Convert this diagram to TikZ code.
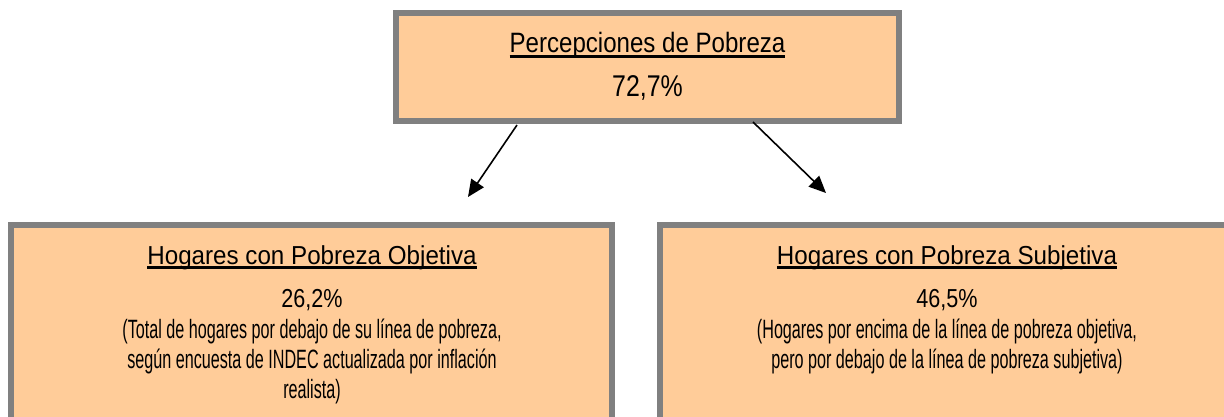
\documentclass[tikz,border=0pt]{standalone}
\usepackage{fontspec}
\setmainfont{Liberation Sans}[FakeStretch=0.61]
\newfontfamily\ttlfont{Liberation Sans}[FakeStretch=0.93]
\newfontfamily\topttlfont{Liberation Sans}[FakeStretch=0.86]
\newfontfamily\valfont{Liberation Sans}[FakeStretch=0.83]
\usetikzlibrary{arrows.meta,calc}
\definecolor{peach}{HTML}{FFCC99}
\definecolor{bordergray}{HTML}{808080}
\newcommand{\myul}[1]{\setbox0\hbox{#1}\rlap{\rule[-5pt]{\wd0}{2.6pt}}\box0}
\tikzset{
  box/.style={draw=bordergray, fill=peach, line width=6pt, rectangle, inner sep=0pt, outer sep=0pt},
  ln/.style={anchor=base, inner sep=0pt, font=\fontsize{26.5}{30}\selectfont},
  ttl/.style={ln, font=\ttlfont\fontsize{26}{30}\selectfont},
  topttl/.style={ln, font=\topttlfont\fontsize{28}{30}\selectfont},
  val/.style={ln, font=\valfont\fontsize{26}{30}\selectfont},
  topval/.style={ln, font=\valfont\fontsize{30}{30}\selectfont},
  conn/.style={line width=1.6pt, -{Triangle[length=17pt,width=15pt]}},
}
\begin{document}
\begin{tikzpicture}[x=1pt,y=-1pt]
\useasboundingbox (0,0) rectangle (1224,417);
\clip (0,0) rectangle (1224,417);
\node[box, minimum width=503pt, minimum height=108pt] (top) at (647.5,67) {};
\node[box, minimum width=601pt, minimum height=230pt] (left) at (311.5,340) {};
\node[box, minimum width=574pt, minimum height=230pt] (right) at (947,340) {};
% top box
\node[topttl] (toptitle) at (647.5,53) {\myul{Percepciones de Pobreza}};
\node[topval] (topvalue) at (647.5,97) {72,7\%};
% left box
\node[ttl] (lt) at (312,264) {\myul{Hogares con Pobreza Objetiva}};
\node[val] (lv) at (312,307) {26,2\%};
\node[ln] (l1) at (312,338) {(Total de hogares por debajo de su línea de pobreza,};
\node[ln] (l2) at (312,368) {según encuesta de INDEC actualizada por inflación};
\node[ln] (l3) at (312,398) {realista)};
% right box
\node[ttl] (rt) at (947,264) {\myul{Hogares con Pobreza Subjetiva}};
\node[val] (rv) at (947,307) {46,5\%};
\node[ln] (r1) at (947,338) {(Hogares por encima de la línea de pobreza objetiva,};
\node[ln] (r2) at (947,368) {pero por debajo de la línea de pobreza subjetiva)};
% connectors
\coordinate (la) at (468,197);
\coordinate (ra) at (826,193);
\draw[conn] ($(top.south)+(-130.5,4)$) -- (la);
\draw[conn] ($(top.south)+(105.5,1)$) -- (ra);
\end{tikzpicture}
\end{document}
